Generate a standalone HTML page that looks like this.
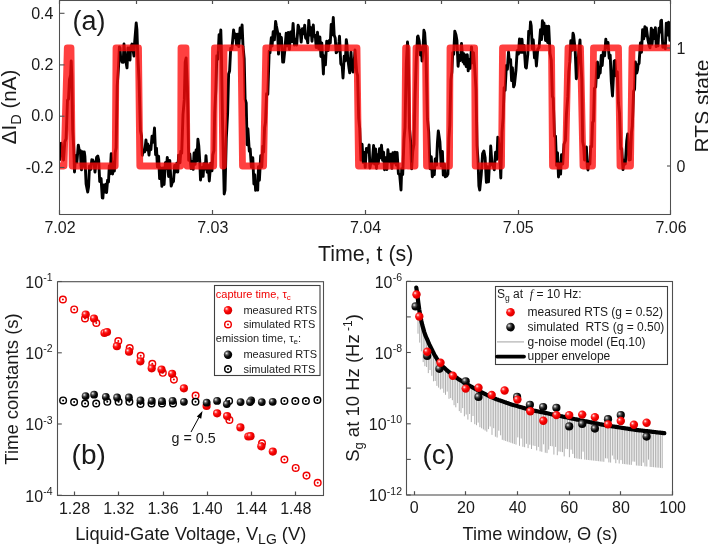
<!DOCTYPE html>
<html><head><meta charset="utf-8"><style>
html,body{margin:0;padding:0;background:#fff;}
svg{display:block;will-change:transform;}
text{font-family:"Liberation Sans", sans-serif;}
</style></head><body>
<svg width="708" height="545" viewBox="0 0 708 545" fill="#1a1a1a">
<rect x="0" y="0" width="708" height="545" fill="#fff"/>
<defs>
<clipPath id="ca"><rect x="60" y="0.5" width="611" height="214.0"/></clipPath>
<radialGradient id="gr" cx="0.36" cy="0.36" r="0.7" fx="0.33" fy="0.33"><stop offset="0" stop-color="#fff4f4"/><stop offset="0.28" stop-color="#ff3030"/><stop offset="0.55" stop-color="#f80000"/><stop offset="1" stop-color="#d00000"/></radialGradient>
<radialGradient id="gk" cx="0.36" cy="0.36" r="0.7" fx="0.33" fy="0.33"><stop offset="0" stop-color="#f0f0f0"/><stop offset="0.3" stop-color="#505050"/><stop offset="0.6" stop-color="#080808"/><stop offset="1" stop-color="#000"/></radialGradient>
</defs>
<g clip-path="url(#ca)">
<polyline points="60.0,159.5 61.2,143.1 62.2,155.7 63.0,151.7 63.5,160.0 64.8,141.9 66.1,138.7 67.5,100.3 68.5,99.1 69.5,79.3 70.6,75.0 71.2,61.0 71.8,76.1 72.7,130.2 73.7,147.9 74.5,172.0 75.6,155.6 76.9,162.4 78.3,145.1 79.2,150.0 80.4,150.5 81.0,165.0 81.5,169.8 82.7,151.6 83.8,166.4 84.3,152.0 84.9,156.5 86.1,183.9 87.7,192.0 88.6,186.5 89.5,165.9 90.8,169.4 91.8,159.8 92.7,160.0 94.2,164.0 95.0,172.0 96.6,157.2 97.8,156.0 98.7,160.1 99.7,181.5 101.1,178.6 102.3,197.9 102.9,198.0 103.6,185.0 104.9,192.1 105.8,184.1 106.6,192.5 107.6,180.2 108.5,182.0 109.3,165.7 110.2,173.8 111.2,153.7 112.6,174.0 113.5,162.0 114.4,171.0 115.2,152.7 116.1,147.8 117.2,86.0 118.5,67.2 119.4,47.0 120.0,48.0 120.6,57.1 122.0,62.0 123.2,62.3 124.0,44.0 125.0,56.5 126.0,62.0 127.0,67.9 128.0,48.0 129.3,59.3 130.0,60.0 130.5,47.7 132.0,44.0 134.0,56.0 134.6,43.0 136.2,23.0 136.9,29.3 137.8,56.4 139.1,81.1 140.4,130.5 141.5,135.8 142.3,155.3 143.0,150.0 144.7,151.9 146.0,140.0 146.8,149.7 147.7,143.9 149.0,155.0 149.8,146.1 150.9,149.7 152.0,136.3 153.3,142.2 154.5,128.0 155.6,154.8 156.5,148.1 157.4,166.9 158.6,156.3 159.6,178.6 160.8,168.0 161.9,186.3 163.1,167.9 164.1,184.5 165.4,162.7 166.4,168.5 167.3,157.4 168.6,176.5 169.8,160.5 171.2,186.1 172.4,182.0 173.5,181.4 174.6,165.5 175.6,172.0 176.8,163.2 177.8,172.0 178.6,155.1 180.0,162.7 180.8,151.3 181.7,153.3 183.0,114.5 184.3,99.4 185.2,62.0 186.1,58.0 187.4,87.3 188.7,160.3 189.8,154.0 191.1,168.5 192.3,161.5 193.2,169.3 194.1,152.9 195.1,164.3 196.1,150.0 196.9,161.1 197.9,139.3 198.8,146.0 199.8,162.0 200.5,180.0 201.9,167.8 203.1,176.3 203.9,163.7 205.2,169.1 206.0,155.7 207.2,172.2 208.2,165.4 209.3,181.0 210.7,163.3 212.0,170.7 212.8,154.9 213.9,150.6 214.7,112.9 215.8,90.8 216.8,55.7 217.9,59.2 219.1,34.6 220.1,40.7 220.8,30.0 221.3,46.8 222.6,125.8 224.2,194.0 225.0,190.1 226.3,138.1 227.6,113.7 228.6,74.0 229.6,71.1 230.7,48.2 231.9,48.9 233.6,30.0 234.3,37.6 235.6,34.0 236.5,44.7 237.8,34.1 238.8,46.6 240.1,28.0 240.9,37.9 242.1,25.0 243.0,46.2 244.2,58.7 245.1,99.2 246.2,103.0 247.1,144.8 247.9,128.8 249.3,151.2 250.2,148.9 251.4,167.1 252.8,157.7 253.9,184.0 254.8,174.8 255.6,190.4 256.4,189.0 257.7,190.0 258.5,166.8 259.4,180.2 260.7,155.8 261.8,166.7 262.8,146.3 263.6,152.0 264.6,127.6 265.5,122.2 266.6,93.8 267.8,94.3 269.2,51.1 270.0,52.9 271.3,37.8 272.1,46.0 273.2,31.6 274.4,39.8 275.6,21.4 276.4,26.0 277.6,32.0 278.5,54.1 279.6,33.9 280.5,43.6 281.4,37.5 282.7,62.1 283.6,62.0 284.8,50.4 286.2,33.1 287.3,45.9 288.3,32.5 289.4,49.4 290.7,31.9 291.9,41.6 293.1,23.4 294.4,45.1 296.0,39.0 296.7,45.0 298.1,25.3 299.3,29.0 300.2,31.2 301.2,42.0 302.4,28.6 303.6,33.9 304.1,30.0 304.7,25.3 305.6,38.0 307.0,39.0 307.8,42.9 308.8,20.4 310.0,35.0 311.1,27.6 312.0,41.2 313.3,25.0 314.0,36.4 315.3,35.5 316.2,47.5 317.5,32.3 318.8,48.9 319.9,37.0 320.9,56.5 321.8,42.9 323.4,74.0 324.0,56.0 325.4,64.8 326.7,41.3 328.1,50.6 329.3,40.4 330.3,43.0 331.2,24.4 332.1,34.9 333.3,17.5 334.2,35.2 335.2,38.0 336.2,52.8 337.0,52.0 338.1,49.3 339.0,42.0 339.5,36.3 340.8,63.8 342.2,66.1 343.0,78.0 344.2,56.3 345.4,60.8 346.3,39.7 347.0,45.0 347.7,58.0 349.0,68.0 349.7,72.8 351.0,52.0 352.0,67.5 353.0,72.0 354.5,57.5 355.0,50.0 356.7,72.2 357.6,75.5 358.7,118.3 359.7,128.3 360.9,160.1 362.1,144.3 363.1,162.5 364.3,152.5 365.2,167.4 366.4,148.4 368.0,152.0 369.1,144.9 369.9,168.0 371.0,162.0 372.2,163.0 373.6,145.5 374.6,164.1 375.6,148.9 376.4,168.3 377.4,155.0 378.3,163.4 379.5,148.6 380.0,152.0 380.5,157.7 381.5,145.3 382.6,160.4 383.6,152.2 384.5,169.7 385.5,157.8 386.9,169.5 387.9,149.8 389.3,161.7 390.6,154.2 391.9,168.3 392.9,152.7 393.8,162.9 395.0,152.3 396.2,165.0 397.1,152.5 398.4,173.6 399.7,174.8 401.0,190.0 401.7,168.7 402.7,174.5 404.0,139.3 405.0,127.3 406.3,63.6 407.5,42.0 408.2,50.4 409.5,128.5 410.8,143.7 411.6,168.8 412.8,150.9 414.0,144.3 415.0,98.5 416.2,62.2 417.5,36.8 418.0,36.0 419.2,40.8 420.3,55.0 421.5,47.6 422.0,61.0 422.7,55.9 423.9,30.3 424.7,33.0 426.0,54.7 427.4,118.5 428.7,132.2 430.1,168.8 431.3,156.8 432.3,176.8 433.0,175.0 434.3,174.7 435.2,159.0 436.5,165.1 437.4,143.0 438.3,131.0 439.9,141.8 441.2,165.8 442.4,151.5 443.3,175.1 444.4,164.2 445.3,176.8 446.8,176.0 447.9,174.1 448.9,138.1 449.8,125.2 450.9,79.6 451.9,71.8 452.7,52.8 453.7,54.3 454.8,31.1 456.0,35.0 456.9,40.2 458.1,66.3 459.1,55.7 460.3,60.5 461.0,52.0 461.5,43.5 463.0,62.0 463.5,53.4 464.5,64.1 465.0,55.0 466.2,66.5 467.3,54.8 468.2,70.9 469.0,59.8 470.2,68.3 471.0,55.0 471.5,46.9 472.6,62.8 473.5,52.7 474.7,67.8 476.0,89.5 477.0,145.5 478.0,159.8 478.9,185.9 479.7,190.0 481.2,175.1 482.6,153.6 483.9,151.0 485.1,157.4 486.4,182.4 487.5,166.7 488.5,181.9 489.3,167.0 490.1,165.4 490.7,146.0 492.0,164.3 493.0,165.0 494.3,169.8 495.6,152.2 496.9,159.2 497.8,137.1 498.3,138.0 499.8,156.1 500.8,178.0 502.0,132.1 503.1,117.8 504.1,87.8 505.1,90.5 506.4,65.4 507.4,69.4 508.5,52.0 509.4,61.9 510.6,59.6 511.6,80.6 512.4,67.6 513.6,86.9 514.4,85.0 516.0,70.0 517.2,50.7 518.4,54.1 519.5,39.0 520.7,52.4 522.0,39.1 522.8,52.4 524.1,45.5 525.5,67.2 526.3,68.0 527.8,54.3 528.7,31.3 529.9,33.0 530.5,22.0 531.2,25.8 532.3,48.7 533.2,39.7 534.5,57.8 535.4,51.8 536.4,66.0 537.7,49.3 539.1,47.5 540.5,29.6 541.5,39.6 542.4,20.8 543.2,33.8 544.0,23.0 545.5,40.5 546.6,26.1 547.6,42.5 548.7,26.3 550.0,53.2 551.3,60.5 552.4,96.4 553.2,98.3 554.5,136.2 555.5,136.1 556.6,165.4 557.5,152.8 558.5,177.0 559.3,163.1 560.6,174.1 561.5,154.6 562.7,164.0 564.0,144.2 565.4,140.5 566.4,114.6 567.8,96.9 568.8,71.3 569.8,61.9 570.8,40.7 572.1,50.1 573.0,33.3 573.6,35.0 575.2,50.6 576.3,78.8 577.0,76.0 578.6,54.3 580.0,40.0 580.8,61.5 581.8,79.5 582.7,141.7 583.7,147.0 584.5,160.0 586.4,147.0 587.3,167.0 588.0,170.0 588.6,162.7 589.9,164.0 590.7,146.4 591.7,146.7 592.6,122.5 593.5,121.0 594.4,88.4 595.7,86.8 597.0,62.6 597.5,62.0 598.2,77.6 599.0,74.0 600.2,72.9 601.3,55.4 602.2,65.5 603.3,51.6 604.6,55.8 605.8,39.3 606.9,47.7 608.0,42.4 609.2,58.2 610.2,55.1 611.3,81.4 612.5,96.0 614.2,61.0 615.0,60.6 616.0,75.9 617.3,72.0 618.4,102.7 619.5,112.8 620.7,148.9 621.7,148.6 623.0,169.6 624.3,160.2 625.3,164.0 626.7,141.0 627.7,134.0 629.0,160.0 630.3,159.7 631.5,132.3 632.3,126.0 633.6,91.3 634.6,89.1 635.4,62.0 636.8,73.0 637.5,70.0 638.0,65.1 639.1,63.2 640.4,42.9 641.5,52.2 642.6,29.6 643.7,38.9 644.9,26.6 645.7,35.7 646.4,28.0 647.9,39.8 649.0,45.0 650.0,47.8 651.3,28.1 652.1,44.2 653.2,30.3 654.6,38.5 655.4,27.6 656.2,46.6 657.5,41.0 658.0,45.9 659.0,28.3 660.3,32.0 660.8,21.0 661.5,20.2 662.8,47.2 664.2,44.0 665.3,48.7 666.3,23.1 667.6,35.0 668.6,22.2 669.9,40.3" fill="none" stroke="#000" stroke-width="2.9" stroke-linejoin="round" stroke-linecap="round"/>
<path d="M60,166.0 L64.0,166.0 L67.3,47.8 L71.0,47.8 L72.2,166.0 L115.2,166.0 L116.0,47.8 L138.5,47.8 L139.8,166.0 L180.6,166.0 L181.0,47.8 L186.0,47.8 L187.0,166.0 L213.7,166.0 L214.5,47.8 L221.5,47.8 L222.8,166.0 L223.4,166.0 L224.0,47.8 L241.0,47.8 L242.5,166.0 L263.6,166.0 L265.8,47.8 L357.0,47.8 L358.5,166.0 L404.6,166.0 L405.6,47.8 L407.2,47.8 L408.0,166.0 L415.0,166.0 L416.0,47.8 L425.5,47.8 L426.5,166.0 L449.5,166.0 L450.0,47.8 L474.6,47.8 L475.2,166.0 L501.5,166.0 L502.5,47.8 L551.5,47.8 L552.5,166.0 L565.5,166.0 L568.0,47.8 L580.5,47.8 L583.0,166.0 L592.5,166.0 L593.5,47.8 L618.5,47.8 L620.0,166.0 L630.5,166.0 L632.0,47.8 L672,47.8" fill="none" stroke="rgb(255,10,10)" stroke-opacity="0.78" stroke-width="6.8" stroke-linejoin="round" stroke-linecap="round"/>
</g>
<rect x="59.5" y="0.5" width="611" height="214" fill="none" stroke="#505050" stroke-width="1.05"/>
<line x1="60" y1="13.3" x2="64.5" y2="13.3" stroke="#505050" stroke-width="1.1"/>
<text x="53.4" y="18.5" text-anchor="end" font-size="16">0.4</text>
<line x1="60" y1="64.9" x2="64.5" y2="64.9" stroke="#505050" stroke-width="1.1"/>
<text x="53.4" y="70.1" text-anchor="end" font-size="16">0.2</text>
<line x1="60" y1="116.2" x2="64.5" y2="116.2" stroke="#505050" stroke-width="1.1"/>
<text x="53.4" y="121.4" text-anchor="end" font-size="16">0.0</text>
<line x1="60" y1="167.5" x2="64.5" y2="167.5" stroke="#505050" stroke-width="1.1"/>
<text x="53.4" y="172.7" text-anchor="end" font-size="16">-0.2</text>
<line x1="59.5" y1="214.5" x2="59.5" y2="210.0" stroke="#505050" stroke-width="1.2"/>
<text x="60.0" y="232.5" text-anchor="middle" font-size="16">7.02</text>
<line x1="212.5" y1="214.5" x2="212.5" y2="210.0" stroke="#505050" stroke-width="1.2"/>
<text x="212.8" y="232.5" text-anchor="middle" font-size="16">7.03</text>
<line x1="365.5" y1="214.5" x2="365.5" y2="210.0" stroke="#505050" stroke-width="1.2"/>
<text x="365.5" y="232.5" text-anchor="middle" font-size="16">7.04</text>
<line x1="518.5" y1="214.5" x2="518.5" y2="210.0" stroke="#505050" stroke-width="1.2"/>
<text x="518.2" y="232.5" text-anchor="middle" font-size="16">7.05</text>
<line x1="670.5" y1="214.5" x2="670.5" y2="210.0" stroke="#505050" stroke-width="1.2"/>
<text x="671.0" y="232.5" text-anchor="middle" font-size="16">7.06</text>
<line x1="59.5" y1="0.5" x2="59.5" y2="4.0" stroke="#505050" stroke-width="1.2"/>
<line x1="136.5" y1="0.5" x2="136.5" y2="4.0" stroke="#505050" stroke-width="1.2"/>
<line x1="212.5" y1="0.5" x2="212.5" y2="4.0" stroke="#505050" stroke-width="1.2"/>
<line x1="288.5" y1="0.5" x2="288.5" y2="4.0" stroke="#505050" stroke-width="1.2"/>
<line x1="365.5" y1="0.5" x2="365.5" y2="4.0" stroke="#505050" stroke-width="1.2"/>
<line x1="441.5" y1="0.5" x2="441.5" y2="4.0" stroke="#505050" stroke-width="1.2"/>
<line x1="518.5" y1="0.5" x2="518.5" y2="4.0" stroke="#505050" stroke-width="1.2"/>
<line x1="594.5" y1="0.5" x2="594.5" y2="4.0" stroke="#505050" stroke-width="1.2"/>
<line x1="670.5" y1="0.5" x2="670.5" y2="4.0" stroke="#505050" stroke-width="1.2"/>
<line x1="667" y1="48.0" x2="671" y2="48.0" stroke="#505050" stroke-width="1.1"/>
<text x="676.5" y="53.6" font-size="16">1</text>
<line x1="667" y1="166.0" x2="671" y2="166.0" stroke="#505050" stroke-width="1.1"/>
<text x="676.5" y="171.6" font-size="16">0</text>
<text x="72.5" y="29.5" font-size="27">(a)</text>
<text x="365.7" y="261" text-anchor="middle" font-size="21.4">Time, t (s)</text>
<text transform="translate(708.6,106) rotate(-90)" text-anchor="middle" font-size="21">RTS state</text>
<text transform="translate(16,107) rotate(-90)" text-anchor="middle" font-size="20.6">&#916;I<tspan font-size="14.5" dy="4.5">D</tspan><tspan dy="-4.5"> (nA)</tspan></text>
<rect x="57.5" y="281.7" width="266" height="213.8" fill="none" stroke="#505050" stroke-width="1.1"/>
<line x1="57.8" y1="281.5" x2="61.8" y2="281.5" stroke="#505050" stroke-width="1.1"/>
<text x="52.6" y="287.7" text-anchor="end" font-size="16">10<tspan font-size="10.5" dx="0.2" dy="-6.7">-1</tspan></text>
<line x1="57.8" y1="352.8" x2="61.8" y2="352.8" stroke="#505050" stroke-width="1.1"/>
<text x="52.6" y="359.0" text-anchor="end" font-size="16">10<tspan font-size="10.5" dx="0.2" dy="-6.7">-2</tspan></text>
<line x1="57.8" y1="424.0" x2="61.8" y2="424.0" stroke="#505050" stroke-width="1.1"/>
<text x="52.6" y="430.2" text-anchor="end" font-size="16">10<tspan font-size="10.5" dx="0.2" dy="-6.7">-3</tspan></text>
<line x1="57.8" y1="495.3" x2="61.8" y2="495.3" stroke="#505050" stroke-width="1.1"/>
<text x="52.6" y="501.5" text-anchor="end" font-size="16">10<tspan font-size="10.5" dx="0.2" dy="-6.7">-4</tspan></text>
<line x1="74.5" y1="495.3" x2="74.5" y2="491.5" stroke="#505050" stroke-width="1.2"/>
<text x="74.5" y="514" text-anchor="middle" font-size="16">1.28</text>
<line x1="118.5" y1="495.3" x2="118.5" y2="491.5" stroke="#505050" stroke-width="1.2"/>
<text x="118.8" y="514" text-anchor="middle" font-size="16">1.32</text>
<line x1="163.5" y1="495.3" x2="163.5" y2="491.5" stroke="#505050" stroke-width="1.2"/>
<text x="163.0" y="514" text-anchor="middle" font-size="16">1.36</text>
<line x1="207.5" y1="495.3" x2="207.5" y2="491.5" stroke="#505050" stroke-width="1.2"/>
<text x="207.2" y="514" text-anchor="middle" font-size="16">1.40</text>
<line x1="251.5" y1="495.3" x2="251.5" y2="491.5" stroke="#505050" stroke-width="1.2"/>
<text x="251.5" y="514" text-anchor="middle" font-size="16">1.44</text>
<line x1="295.5" y1="495.3" x2="295.5" y2="491.5" stroke="#505050" stroke-width="1.2"/>
<text x="295.8" y="514" text-anchor="middle" font-size="16">1.48</text>
<text x="190.7" y="539.5" text-anchor="middle" font-size="18.3">Liquid-Gate Voltage, V<tspan font-size="14" dy="4">LG</tspan><tspan dy="-4"> (V)</tspan></text>
<text transform="translate(18,389) rotate(-90)" text-anchor="middle" font-size="18.5">Time constants (s)</text>
<text x="71.6" y="464.3" font-size="28">(b)</text>
<circle cx="62.9" cy="299.5" r="3.3" fill="#fff" stroke="#f00000" stroke-width="1.45"/><circle cx="62.9" cy="299.5" r="1.0" fill="#f00000"/>
<circle cx="74.2" cy="309.4" r="3.3" fill="#fff" stroke="#f00000" stroke-width="1.45"/><circle cx="74.2" cy="309.4" r="1.0" fill="#f00000"/>
<circle cx="85.0" cy="318.5" r="3.3" fill="#fff" stroke="#f00000" stroke-width="1.45"/><circle cx="85.0" cy="318.5" r="1.0" fill="#f00000"/>
<circle cx="96.3" cy="323.0" r="3.3" fill="#fff" stroke="#f00000" stroke-width="1.45"/><circle cx="96.3" cy="323.0" r="1.0" fill="#f00000"/>
<circle cx="118.3" cy="341.1" r="3.3" fill="#fff" stroke="#f00000" stroke-width="1.45"/><circle cx="118.3" cy="341.1" r="1.0" fill="#f00000"/>
<circle cx="129.7" cy="348.0" r="3.3" fill="#fff" stroke="#f00000" stroke-width="1.45"/><circle cx="129.7" cy="348.0" r="1.0" fill="#f00000"/>
<circle cx="140.7" cy="355.8" r="3.3" fill="#fff" stroke="#f00000" stroke-width="1.45"/><circle cx="140.7" cy="355.8" r="1.0" fill="#f00000"/>
<circle cx="152.3" cy="363.7" r="3.3" fill="#fff" stroke="#f00000" stroke-width="1.45"/><circle cx="152.3" cy="363.7" r="1.0" fill="#f00000"/>
<circle cx="162.8" cy="372.8" r="3.3" fill="#fff" stroke="#f00000" stroke-width="1.45"/><circle cx="162.8" cy="372.8" r="1.0" fill="#f00000"/>
<circle cx="173.9" cy="379.6" r="3.3" fill="#fff" stroke="#f00000" stroke-width="1.45"/><circle cx="173.9" cy="379.6" r="1.0" fill="#f00000"/>
<circle cx="195.6" cy="395.5" r="3.3" fill="#fff" stroke="#f00000" stroke-width="1.45"/><circle cx="195.6" cy="395.5" r="1.0" fill="#f00000"/>
<circle cx="229.4" cy="419.9" r="3.3" fill="#fff" stroke="#f00000" stroke-width="1.45"/><circle cx="229.4" cy="419.9" r="1.0" fill="#f00000"/>
<circle cx="262.0" cy="443.2" r="3.3" fill="#fff" stroke="#f00000" stroke-width="1.45"/><circle cx="262.0" cy="443.2" r="1.0" fill="#f00000"/>
<circle cx="284.4" cy="459.5" r="3.3" fill="#fff" stroke="#f00000" stroke-width="1.45"/><circle cx="284.4" cy="459.5" r="1.0" fill="#f00000"/>
<circle cx="295.7" cy="467.9" r="3.3" fill="#fff" stroke="#f00000" stroke-width="1.45"/><circle cx="295.7" cy="467.9" r="1.0" fill="#f00000"/>
<circle cx="306.5" cy="475.6" r="3.3" fill="#fff" stroke="#f00000" stroke-width="1.45"/><circle cx="306.5" cy="475.6" r="1.0" fill="#f00000"/>
<circle cx="317.7" cy="482.8" r="3.3" fill="#fff" stroke="#f00000" stroke-width="1.45"/><circle cx="317.7" cy="482.8" r="1.0" fill="#f00000"/>
<circle cx="63.1" cy="400.4" r="3.3" fill="#fff" stroke="#000" stroke-width="1.45"/><circle cx="63.1" cy="400.4" r="1.0" fill="#000"/>
<circle cx="74.1" cy="402.1" r="3.3" fill="#fff" stroke="#000" stroke-width="1.45"/><circle cx="74.1" cy="402.1" r="1.0" fill="#000"/>
<circle cx="85.1" cy="403.5" r="3.3" fill="#fff" stroke="#000" stroke-width="1.45"/><circle cx="85.1" cy="403.5" r="1.0" fill="#000"/>
<circle cx="96.2" cy="403.5" r="3.3" fill="#fff" stroke="#000" stroke-width="1.45"/><circle cx="96.2" cy="403.5" r="1.0" fill="#000"/>
<circle cx="107.3" cy="401.8" r="3.3" fill="#fff" stroke="#000" stroke-width="1.45"/><circle cx="107.3" cy="401.8" r="1.0" fill="#000"/>
<circle cx="118.6" cy="401.8" r="3.3" fill="#fff" stroke="#000" stroke-width="1.45"/><circle cx="118.6" cy="401.8" r="1.0" fill="#000"/>
<circle cx="129.4" cy="401.8" r="3.3" fill="#fff" stroke="#000" stroke-width="1.45"/><circle cx="129.4" cy="401.8" r="1.0" fill="#000"/>
<circle cx="140.5" cy="403.9" r="3.3" fill="#fff" stroke="#000" stroke-width="1.45"/><circle cx="140.5" cy="403.9" r="1.0" fill="#000"/>
<circle cx="151.5" cy="403.5" r="3.3" fill="#fff" stroke="#000" stroke-width="1.45"/><circle cx="151.5" cy="403.5" r="1.0" fill="#000"/>
<circle cx="162.0" cy="403.5" r="3.3" fill="#fff" stroke="#000" stroke-width="1.45"/><circle cx="162.0" cy="403.5" r="1.0" fill="#000"/>
<circle cx="173.0" cy="403.5" r="3.3" fill="#fff" stroke="#000" stroke-width="1.45"/><circle cx="173.0" cy="403.5" r="1.0" fill="#000"/>
<circle cx="195.5" cy="401.8" r="3.3" fill="#fff" stroke="#000" stroke-width="1.45"/><circle cx="195.5" cy="401.8" r="1.0" fill="#000"/>
<circle cx="229.1" cy="400.9" r="3.3" fill="#fff" stroke="#000" stroke-width="1.45"/><circle cx="229.1" cy="400.9" r="1.0" fill="#000"/>
<circle cx="284.4" cy="400.9" r="3.3" fill="#fff" stroke="#000" stroke-width="1.45"/><circle cx="284.4" cy="400.9" r="1.0" fill="#000"/>
<circle cx="295.3" cy="401.0" r="3.3" fill="#fff" stroke="#000" stroke-width="1.45"/><circle cx="295.3" cy="401.0" r="1.0" fill="#000"/>
<circle cx="305.9" cy="401.0" r="3.3" fill="#fff" stroke="#000" stroke-width="1.45"/><circle cx="305.9" cy="401.0" r="1.0" fill="#000"/>
<circle cx="317.4" cy="400.0" r="3.3" fill="#fff" stroke="#000" stroke-width="1.45"/><circle cx="317.4" cy="400.0" r="1.0" fill="#000"/>
<circle cx="85.7" cy="314.5" r="4.1" fill="url(#gr)"/>
<circle cx="94.0" cy="318.5" r="4.1" fill="url(#gr)"/>
<circle cx="104.5" cy="333.0" r="4.1" fill="url(#gr)"/>
<circle cx="107.0" cy="332.0" r="4.1" fill="url(#gr)"/>
<circle cx="116.9" cy="346.2" r="4.1" fill="url(#gr)"/>
<circle cx="129.0" cy="351.7" r="4.1" fill="url(#gr)"/>
<circle cx="140.4" cy="361.3" r="4.1" fill="url(#gr)"/>
<circle cx="151.7" cy="368.3" r="4.1" fill="url(#gr)"/>
<circle cx="161.5" cy="369.5" r="4.1" fill="url(#gr)"/>
<circle cx="172.1" cy="373.8" r="4.1" fill="url(#gr)"/>
<circle cx="183.9" cy="388.3" r="4.1" fill="url(#gr)"/>
<circle cx="206.6" cy="406.0" r="4.1" fill="url(#gr)"/>
<circle cx="217.1" cy="413.3" r="4.1" fill="url(#gr)"/>
<circle cx="227.1" cy="416.1" r="4.1" fill="url(#gr)"/>
<circle cx="240.4" cy="427.4" r="4.1" fill="url(#gr)"/>
<circle cx="248.3" cy="436.5" r="4.1" fill="url(#gr)"/>
<circle cx="250.5" cy="436.2" r="4.1" fill="url(#gr)"/>
<circle cx="261.3" cy="446.3" r="4.1" fill="url(#gr)"/>
<circle cx="272.8" cy="451.6" r="4.1" fill="url(#gr)"/>
<circle cx="85.6" cy="396.1" r="3.9" fill="url(#gk)"/>
<circle cx="94.1" cy="394.7" r="3.9" fill="url(#gk)"/>
<circle cx="105.8" cy="396.8" r="3.9" fill="url(#gk)"/>
<circle cx="117.1" cy="397.5" r="3.9" fill="url(#gk)"/>
<circle cx="128.9" cy="397.5" r="3.9" fill="url(#gk)"/>
<circle cx="140.5" cy="400.4" r="3.9" fill="url(#gk)"/>
<circle cx="151.8" cy="400.8" r="3.9" fill="url(#gk)"/>
<circle cx="162.0" cy="401.2" r="3.9" fill="url(#gk)"/>
<circle cx="172.6" cy="400.8" r="3.9" fill="url(#gk)"/>
<circle cx="183.9" cy="401.8" r="3.9" fill="url(#gk)"/>
<circle cx="206.7" cy="402.7" r="3.9" fill="url(#gk)"/>
<circle cx="217.1" cy="400.9" r="3.9" fill="url(#gk)"/>
<circle cx="226.8" cy="404.1" r="3.9" fill="url(#gk)"/>
<circle cx="240.6" cy="402.1" r="3.9" fill="url(#gk)"/>
<circle cx="251.2" cy="400.5" r="3.9" fill="url(#gk)"/>
<circle cx="250.0" cy="402.1" r="3.9" fill="url(#gk)"/>
<circle cx="261.8" cy="402.1" r="3.9" fill="url(#gk)"/>
<circle cx="272.7" cy="401.8" r="3.9" fill="url(#gk)"/>
<line x1="191" y1="432" x2="200.5" y2="414.5" stroke="#000" stroke-width="1"/>
<polygon points="202.5,411 196.8,416.5 201.2,418.8" fill="#000"/>
<text x="171.6" y="443.3" font-size="14.3">g = 0.5</text>
<rect x="214.5" y="285.5" width="105.5" height="90" fill="#fff" stroke="#404040" stroke-width="1.1"/>
<text x="215.8" y="297.6" font-size="11" fill="#f00000">capture time, &#964;<tspan font-size="8" dy="2.5">c</tspan></text>
<circle cx="228.0" cy="310.2" r="4.2" fill="url(#gr)"/>
<text x="243.4" y="313.9" font-size="11">measured RTS</text>
<circle cx="228.0" cy="324.4" r="3.3" fill="#fff" stroke="#f00000" stroke-width="1.45"/><circle cx="228.0" cy="324.4" r="1.0" fill="#f00000"/>
<text x="243.4" y="327.8" font-size="11">simulated RTS</text>
<text x="215.8" y="341.6" font-size="11" fill="#222">emission time, &#964;<tspan font-size="8" dy="2.5">e</tspan><tspan dy="-2.5">:</tspan></text>
<circle cx="228.0" cy="354.7" r="4.2" fill="url(#gk)"/>
<text x="243.4" y="358.1" font-size="11">measured RTS</text>
<circle cx="228.0" cy="369.1" r="3.3" fill="#fff" stroke="#000" stroke-width="1.45"/><circle cx="228.0" cy="369.1" r="1.0" fill="#000"/>
<text x="243.4" y="372.5" font-size="11">simulated RTS</text>
<rect x="406.5" y="281.5" width="266" height="213.5" fill="none" stroke="#505050" stroke-width="1.1"/>
<line x1="406.8" y1="281.3" x2="410.8" y2="281.3" stroke="#505050" stroke-width="1.1"/>
<text x="402" y="287.5" text-anchor="end" font-size="16">10<tspan font-size="10.5" dx="0.2" dy="-6.7">-6</tspan></text>
<line x1="406.8" y1="316.9" x2="410.8" y2="316.9" stroke="#505050" stroke-width="1.1"/>
<line x1="406.8" y1="352.5" x2="410.8" y2="352.5" stroke="#505050" stroke-width="1.1"/>
<text x="402" y="358.7" text-anchor="end" font-size="16">10<tspan font-size="10.5" dx="0.2" dy="-6.7">-8</tspan></text>
<line x1="406.8" y1="388.1" x2="410.8" y2="388.1" stroke="#505050" stroke-width="1.1"/>
<line x1="406.8" y1="423.8" x2="410.8" y2="423.8" stroke="#505050" stroke-width="1.1"/>
<text x="402" y="430.0" text-anchor="end" font-size="16">10<tspan font-size="10.5" dx="0.2" dy="-6.7">-10</tspan></text>
<line x1="406.8" y1="459.4" x2="410.8" y2="459.4" stroke="#505050" stroke-width="1.1"/>
<line x1="406.8" y1="495.0" x2="410.8" y2="495.0" stroke="#505050" stroke-width="1.1"/>
<text x="402" y="501.2" text-anchor="end" font-size="16">10<tspan font-size="10.5" dx="0.2" dy="-6.7">-12</tspan></text>
<line x1="414.5" y1="495.0" x2="414.5" y2="491.2" stroke="#505050" stroke-width="1.2"/>
<text x="414.2" y="513" text-anchor="middle" font-size="16">0</text>
<line x1="465.5" y1="495.0" x2="465.5" y2="491.2" stroke="#505050" stroke-width="1.2"/>
<text x="465.9" y="513" text-anchor="middle" font-size="16">20</text>
<line x1="517.5" y1="495.0" x2="517.5" y2="491.2" stroke="#505050" stroke-width="1.2"/>
<text x="517.6" y="513" text-anchor="middle" font-size="16">40</text>
<line x1="569.5" y1="495.0" x2="569.5" y2="491.2" stroke="#505050" stroke-width="1.2"/>
<text x="569.2" y="513" text-anchor="middle" font-size="16">60</text>
<line x1="620.5" y1="495.0" x2="620.5" y2="491.2" stroke="#505050" stroke-width="1.2"/>
<text x="620.9" y="513" text-anchor="middle" font-size="16">80</text>
<line x1="672.5" y1="495.0" x2="672.5" y2="491.2" stroke="#505050" stroke-width="1.2"/>
<text x="672.6" y="513" text-anchor="middle" font-size="16">100</text>
<text x="540" y="539.5" text-anchor="middle" font-size="18.2">Time window, &#920; (s)</text>
<text transform="translate(358.5,388) rotate(-90)" text-anchor="middle" font-size="18.5">S<tspan font-size="13" dy="4">g</tspan><tspan dy="-4"> at 10 Hz (Hz</tspan><tspan font-size="12" dy="-7"> -1</tspan><tspan dy="7">)</tspan></text>
<text x="422.6" y="464.3" font-size="27.5">(c)</text>
<path d="M418.0,300.5V333.7M419.7,312.8V342.6M421.4,321.9V351.3M423.2,328.6V362.1M424.9,334.6V366.2M426.6,338.6V367.0M428.3,342.5V373.1M430.0,346.3V370.0M431.8,349.9V375.8M433.5,353.4V381.3M435.2,356.5V381.0M436.9,359.4V385.9M438.6,362.2V387.6M440.4,364.8V389.4M442.1,366.4V388.6M443.8,368.0V392.8M445.5,369.5V394.8M447.2,371.1V391.6M449.0,372.5V398.8M450.7,373.7V398.1M452.4,375.0V400.2M454.1,376.3V405.2M455.8,377.6V407.3M457.6,378.9V403.1M459.3,380.1V411.1M461.0,381.1V412.9M462.7,382.1V408.1M464.4,383.2V416.3M466.2,384.2V414.5M467.9,385.2V419.6M469.6,386.3V414.0M471.3,387.2V422.1M473.0,388.1V416.0M474.8,389.1V424.2M476.5,390.0V425.2M478.2,390.9V422.6M479.9,391.9V427.2M481.6,392.8V428.3M483.4,393.6V429.4M485.1,394.5V430.5M486.8,395.3V431.7M488.5,396.1V429.1M490.2,396.9V426.5M492.0,397.8V434.9M493.7,398.6V428.2M495.4,399.3V436.7M497.1,399.9V437.5M498.8,400.6V430.7M500.6,401.2V435.3M502.3,401.8V439.8M504.0,402.4V440.4M505.7,403.0V441.0M507.4,403.6V441.6M509.2,404.2V442.2M510.9,404.8V442.8M512.6,405.3V443.4M514.3,405.8V444.0M516.0,406.3V444.6M517.8,406.8V437.4M519.5,407.2V445.8M521.2,407.7V438.5M522.9,408.2V446.8M524.6,408.7V447.2M526.4,409.2V443.8M528.1,409.7V448.1M529.8,410.2V444.7M531.5,410.6V449.0M533.2,411.0V445.6M535.0,411.3V446.0M536.7,411.7V450.4M538.4,412.0V446.9M540.1,412.4V451.3M541.8,412.7V451.8M543.6,413.1V444.3M545.3,413.4V452.7M547.0,413.8V453.1M548.7,414.1V449.6M550.4,414.5V446.0M552.2,414.8V446.3M553.9,415.2V454.6M555.6,415.5V446.9M557.3,415.9V455.2M559.0,416.2V451.5M560.8,416.6V451.8M562.5,417.0V452.1M564.2,417.3V456.4M565.9,417.7V448.8M567.6,418.1V449.1M569.4,418.4V457.2M571.1,418.8V449.7M572.8,419.2V453.9M574.5,419.5V458.1M576.2,419.9V458.4M578.0,420.3V458.7M579.7,420.6V458.9M581.4,421.0V459.2M583.1,421.3V451.7M584.8,421.6V459.6M586.6,422.0V459.8M588.3,422.3V460.0M590.0,422.7V460.2M591.7,423.0V460.4M593.4,423.3V460.6M595.2,423.7V460.8M596.9,424.0V461.0M598.6,424.3V461.2M600.3,424.7V461.4M602.0,425.0V461.6M603.8,425.3V461.8M605.5,425.7V458.3M607.2,426.0V458.5M608.9,426.3V462.4M610.6,426.6V462.6M612.4,426.8V455.5M614.1,427.1V459.3M615.8,427.4V463.2M617.5,427.6V459.7M619.2,427.9V463.5M621.0,428.1V460.1M622.7,428.4V463.9M624.4,428.7V464.1M626.1,428.9V464.3M627.8,429.2V464.5M629.6,429.5V464.7M631.3,429.7V464.9M633.0,430.0V461.5M634.7,430.3V461.7M636.4,430.5V465.5M638.2,430.7V465.7M639.9,430.9V465.8M641.6,431.1V466.0M643.3,431.3V462.6M645.0,431.5V466.4M646.8,431.7V466.5M648.5,431.9V459.6M650.2,432.1V466.9M651.9,432.3V467.0M653.6,432.4V467.2M655.4,432.6V467.4M657.1,432.8V467.6M658.8,433.0V467.7M660.5,433.2V467.9M662.2,433.4V468.1" fill="none" stroke="#a6a6a6" stroke-width="0.9"/>
<polyline points="416.3,287.5 417.3,294.6 418.3,302.4 419.3,309.8 420.3,315.8 421.3,320.7 422.3,325.1 423.3,328.6 424.3,332.1 425.3,335.2 426.3,337.5 427.3,339.7 428.3,342.0 429.3,344.3 430.3,346.4 431.3,348.4 432.3,350.5 433.3,352.6 434.3,354.5 435.3,356.2 436.3,357.8 437.3,359.5 438.3,361.2 439.3,362.8 440.3,364.3 441.3,365.2 442.3,366.1 443.3,367.0 444.3,367.9 445.3,368.8 446.3,369.7 447.3,370.6 448.3,371.5 449.3,372.2 450.3,373.0 451.3,373.7 452.3,374.5 453.3,375.2 454.3,376.0 455.3,376.7 456.3,377.5 457.3,378.2 458.3,379.0 459.3,379.6 460.3,380.2 461.3,380.8 462.3,381.4 463.3,382.0 464.3,382.6 465.3,383.2 466.3,383.8 467.3,384.4 468.3,385.0 469.3,385.6 470.3,386.2 471.3,386.7 472.3,387.2 473.3,387.8 474.3,388.3 475.3,388.9 476.3,389.4 477.3,390.0 478.3,390.5 479.3,391.0 480.3,391.6 481.3,392.1 482.3,392.6 483.3,393.1 484.3,393.6 485.3,394.1 486.3,394.6 487.3,395.0 488.3,395.5 489.3,396.0 490.3,396.5 491.3,396.9 492.3,397.4 493.3,397.9 494.3,398.4 495.3,398.8 496.3,399.2 497.3,399.5 498.3,399.9 499.3,400.2 500.3,400.6 501.3,400.9 502.3,401.3 503.3,401.6 504.3,402.0 505.3,402.3 506.3,402.7 507.3,403.0 508.3,403.4 509.3,403.8 510.3,404.1 511.3,404.4 512.3,404.7 513.3,405.0 514.3,405.2 515.3,405.5 516.3,405.8 517.3,406.1 518.3,406.4 519.3,406.7 520.3,407.0 521.3,407.3 522.3,407.6 523.3,407.9 524.3,408.1 525.3,408.4 526.3,408.7 527.3,409.0 528.3,409.3 529.3,409.6 530.3,409.9 531.3,410.1 532.3,410.3 533.3,410.5 534.3,410.7 535.3,410.9 536.3,411.1 537.3,411.3 538.3,411.5 539.3,411.7 540.3,411.9 541.3,412.1 542.3,412.3 543.3,412.5 544.3,412.7 545.3,412.9 546.3,413.1 547.3,413.3 548.3,413.5 549.3,413.8 550.3,414.0 551.3,414.2 552.3,414.4 553.3,414.6 554.3,414.8 555.3,415.0 556.3,415.2 557.3,415.4 558.3,415.6 559.3,415.8 560.3,416.0 561.3,416.2 562.3,416.4 563.3,416.7 564.3,416.9 565.3,417.1 566.3,417.3 567.3,417.5 568.3,417.7 569.3,417.9 570.3,418.1 571.3,418.4 572.3,418.6 573.3,418.8 574.3,419.0 575.3,419.2 576.3,419.4 577.3,419.6 578.3,419.8 579.3,420.1 580.3,420.3 581.3,420.5 582.3,420.6 583.3,420.8 584.3,421.0 585.3,421.2 586.3,421.4 587.3,421.6 588.3,421.8 589.3,422.0 590.3,422.2 591.3,422.4 592.3,422.6 593.3,422.8 594.3,423.0 595.3,423.2 596.3,423.4 597.3,423.6 598.3,423.8 599.3,424.0 600.3,424.2 601.3,424.4 602.3,424.6 603.3,424.8 604.3,425.0 605.3,425.2 606.3,425.3 607.3,425.5 608.3,425.7 609.3,425.9 610.3,426.0 611.3,426.2 612.3,426.3 613.3,426.5 614.3,426.6 615.3,426.8 616.3,426.9 617.3,427.1 618.3,427.2 619.3,427.4 620.3,427.5 621.3,427.7 622.3,427.9 623.3,428.0 624.3,428.2 625.3,428.3 626.3,428.5 627.3,428.6 628.3,428.8 629.3,428.9 630.3,429.1 631.3,429.2 632.3,429.4 633.3,429.5 634.3,429.7 635.3,429.8 636.3,429.9 637.3,430.1 638.3,430.2 639.3,430.3 640.3,430.4 641.3,430.5 642.3,430.6 643.3,430.8 644.3,430.9 645.3,431.0 646.3,431.1 647.3,431.2 648.3,431.3 649.3,431.4 650.3,431.6 651.3,431.7 652.3,431.8 653.3,431.9 654.3,432.0 655.3,432.1 656.3,432.3 657.3,432.4 658.3,432.5 659.3,432.6 660.3,432.7 661.3,432.8 662.3,432.9 663.3,433.1 664.3,433.2" fill="none" stroke="#000" stroke-width="4.2" stroke-linecap="round" stroke-linejoin="round"/>
<circle cx="415.6" cy="306.4" r="4.1" fill="url(#gk)"/>
<circle cx="427.2" cy="356.0" r="4.1" fill="url(#gk)"/>
<circle cx="439.4" cy="368.8" r="4.1" fill="url(#gk)"/>
<circle cx="465.7" cy="381.3" r="4.1" fill="url(#gk)"/>
<circle cx="478.5" cy="396.9" r="4.1" fill="url(#gk)"/>
<circle cx="517.1" cy="396.9" r="4.1" fill="url(#gk)"/>
<circle cx="529.9" cy="404.8" r="4.1" fill="url(#gk)"/>
<circle cx="543.1" cy="407.0" r="4.1" fill="url(#gk)"/>
<circle cx="556.4" cy="407.8" r="4.1" fill="url(#gk)"/>
<circle cx="569.2" cy="426.4" r="4.1" fill="url(#gk)"/>
<circle cx="582.2" cy="423.9" r="4.1" fill="url(#gk)"/>
<circle cx="594.9" cy="428.6" r="4.1" fill="url(#gk)"/>
<circle cx="608.0" cy="419.2" r="4.1" fill="url(#gk)"/>
<circle cx="620.8" cy="415.1" r="4.1" fill="url(#gk)"/>
<circle cx="646.6" cy="436.6" r="4.1" fill="url(#gk)"/>
<circle cx="416.5" cy="294.5" r="4.2" fill="url(#gr)"/>
<circle cx="419.3" cy="316.5" r="4.2" fill="url(#gr)"/>
<circle cx="427.2" cy="351.8" r="4.2" fill="url(#gr)"/>
<circle cx="440.5" cy="362.8" r="4.2" fill="url(#gr)"/>
<circle cx="452.8" cy="375.8" r="4.2" fill="url(#gr)"/>
<circle cx="465.7" cy="388.6" r="4.2" fill="url(#gr)"/>
<circle cx="478.5" cy="387.7" r="4.2" fill="url(#gr)"/>
<circle cx="491.7" cy="395.0" r="4.2" fill="url(#gr)"/>
<circle cx="504.6" cy="390.5" r="4.2" fill="url(#gr)"/>
<circle cx="517.4" cy="399.6" r="4.2" fill="url(#gr)"/>
<circle cx="530.3" cy="411.2" r="4.2" fill="url(#gr)"/>
<circle cx="543.3" cy="420.7" r="4.2" fill="url(#gr)"/>
<circle cx="556.4" cy="415.1" r="4.2" fill="url(#gr)"/>
<circle cx="569.2" cy="415.1" r="4.2" fill="url(#gr)"/>
<circle cx="582.2" cy="414.6" r="4.2" fill="url(#gr)"/>
<circle cx="594.9" cy="417.1" r="4.2" fill="url(#gr)"/>
<circle cx="608.0" cy="424.4" r="4.2" fill="url(#gr)"/>
<circle cx="620.8" cy="421.0" r="4.2" fill="url(#gr)"/>
<circle cx="633.9" cy="424.7" r="4.2" fill="url(#gr)"/>
<circle cx="646.6" cy="422.7" r="4.2" fill="url(#gr)"/>
<rect x="495.5" y="286.5" width="172" height="78" fill="#fff" stroke="#404040" stroke-width="1.1"/>
<text x="497" y="298.3" font-size="12">S<tspan font-size="8.5" dy="2.8">g</tspan><tspan dy="-2.8"> at&#160; </tspan><tspan font-family="Liberation Serif" font-style="italic">f</tspan> = 10 Hz:</text>
<circle cx="510.5" cy="312.2" r="4.3" fill="url(#gr)"/>
<text x="527.5" y="316" font-size="12">measured RTS (g = 0.52)</text>
<circle cx="510.5" cy="327.1" r="4.3" fill="url(#gk)"/>
<text x="527.5" y="330.8" font-size="12">simulated&#160; RTS (g = 0.50)</text>
<line x1="497" y1="341.9" x2="524" y2="341.9" stroke="#b0b0b0" stroke-width="1.2"/>
<text x="527.5" y="345.5" font-size="12">g-noise model (Eq.10)</text>
<line x1="497" y1="356.6" x2="524" y2="356.6" stroke="#000" stroke-width="3.8" stroke-linecap="round"/>
<text x="527.5" y="359.9" font-size="12">upper envelope</text>
</svg>
</body></html>
